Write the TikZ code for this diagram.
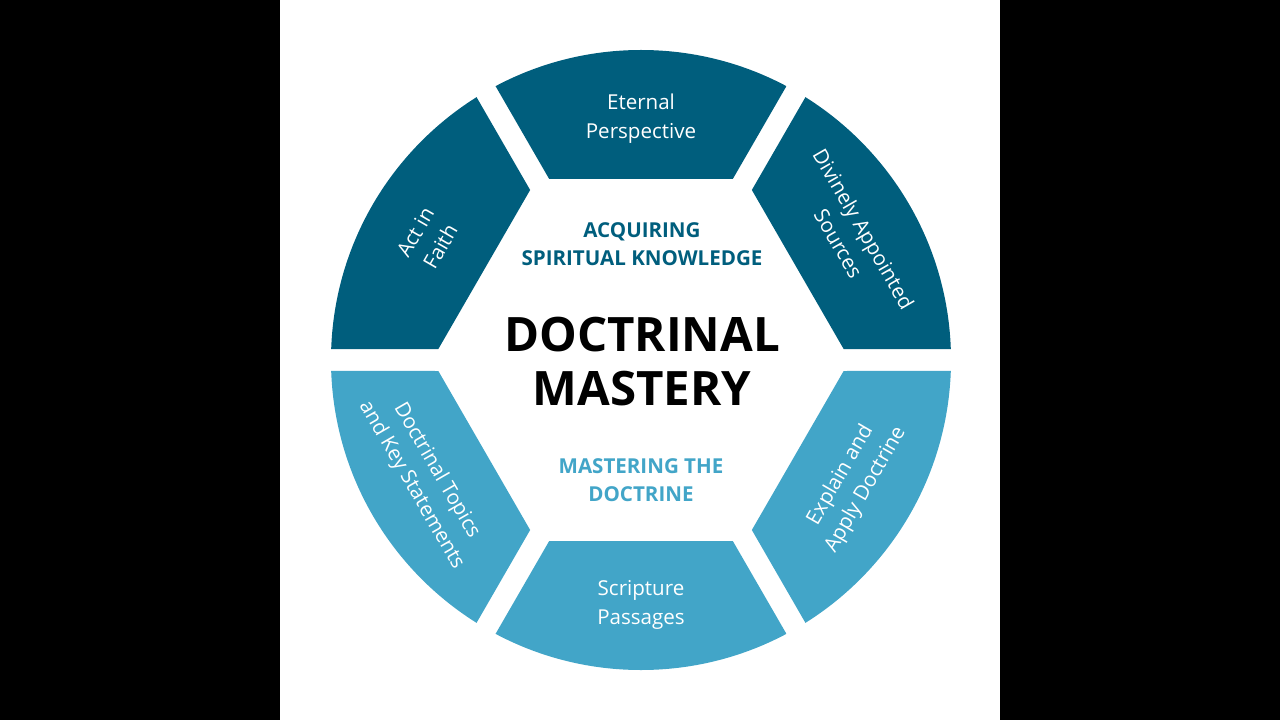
\documentclass[tikz,border=0pt]{standalone}
\usepackage{fontspec}
\setmainfont{Open Sans}
\definecolor{segdark}{RGB}{0,94,125}
\definecolor{seglight}{RGB}{66,165,200}
\tikzset{
  seglabel/.style={text=white, align=center, inner sep=0pt, font=\fontsize{11.7}{16.5}\selectfont},
  subtitle/.style={align=center, inner sep=0pt, font=\fontsize{11.7}{16}\selectfont\bfseries},
  maintitle/.style={align=center, inner sep=0pt, text=black, font=\fontsize{27}{31}\selectfont\bfseries}
}
\begin{document}
\begin{tikzpicture}[x=0.02cm,y=0.02cm]
\fill[black] (-641,-360) rectangle (639,360);
\fill[white] (-361,-360) rectangle (359,360);
\useasboundingbox (-641,-360) rectangle (639,360);
\begin{scope}
  \clip (0,0) circle (310);
  \foreach \r/\c in {0/segdark, -60/segdark, 60/segdark, 120/seglight, 180/seglight, 240/seglight}{
    \fill[\c, rotate=\r] (91.8,181)--(190.5,351.9)--(-190.5,351.9)--(-91.8,181)--cycle;
  }
\end{scope}
\node[seglabel] (eternal) at (90:241) {Eternal\\Perspective};
\node[seglabel, rotate=-60] (divinely) at (30.5:244) {Divinely Appointed\\Sources};
\node[seglabel, rotate=60] (faith) at (150.5:245) {Act in\\Faith};
\node[seglabel, rotate=-60] (topics) at (208.5:247) {Doctrinal Topics\\and Key Statements};
\node[seglabel] (scripture) at (270:244.5) {Scripture\\Passages};
\node[seglabel, rotate=60] (explain) at (330:245) {Explain and\\Apply Doctrine};
\node[subtitle, text=segdark] (acquiring) at (1,116) {ACQUIRING\\SPIRITUAL KNOWLEDGE};
\node[maintitle] (mastery) at (1,-1.5) {DOCTRINAL\\MASTERY};
\node[subtitle, text=seglight] (masteringdoc) at (0,-120.5) {MASTERING THE\\DOCTRINE};
\end{tikzpicture}
\end{document}
